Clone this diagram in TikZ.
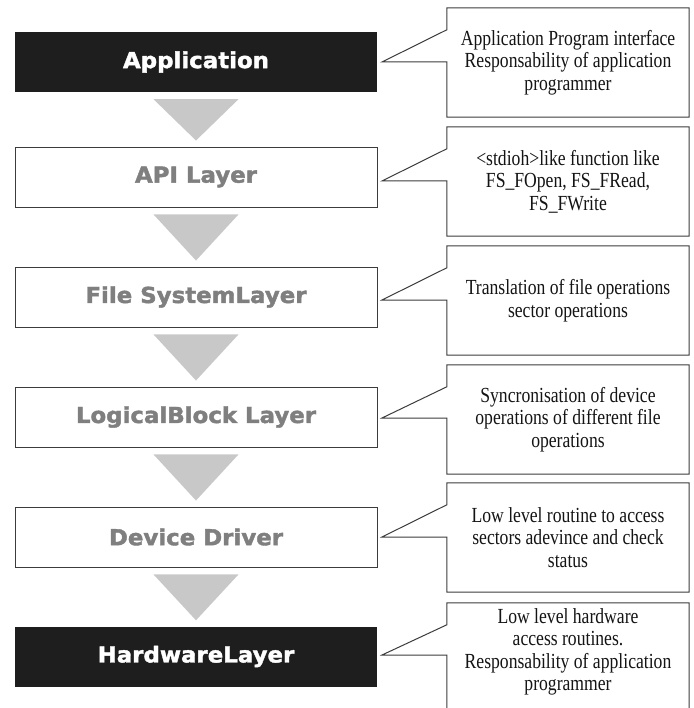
\documentclass[tikz,border=0pt]{standalone}
\usepackage{fontspec}
\newfontfamily\calloutfont[FakeStretch=0.82]{Liberation Serif}
\newfontfamily\layerfont[FakeStretch=1.04,FakeBold=1.8]{DejaVu Sans}
\usetikzlibrary{calc}
\definecolor{boxblack}{HTML}{1E1E1E}
\definecolor{layergray}{HTML}{7F7F7F}
\definecolor{arrowgray}{HTML}{C8C8C8}
\definecolor{edgegray}{HTML}{3C3C3C}
\begin{document}
\begin{tikzpicture}[x=1pt,y=-1pt,
  layer/.style={rectangle, minimum width=362pt, minimum height=60pt, inner sep=0pt,
    font=\layerfont\bfseries\fontsize{22}{24}\selectfont},
  darklayer/.style={layer, fill=boxblack, text=white},
  lightlayer/.style={layer, fill=white, draw=edgegray, line width=0.9pt, text=layergray},
  note/.style={rectangle, minimum width=242pt, minimum height=109pt, inner sep=0pt,
    align=center, font=\calloutfont\fontsize{21.5}{22.5}\selectfont, text=black!92},
  callout/.style={draw=edgegray, line width=1pt, line join=miter},
  flow/.style={fill=arrowgray, draw=none}]
\useasboundingbox (0,0) rectangle (693,708);
\fill[white] (0,0) rectangle (693,708);

% layers
\node[darklayer]  (app) at (196,62)    {Application};
\node[lightlayer] (api) at (196,177)   {API Layer};
\node[lightlayer] (fs)  at (196,297)   {File SystemLayer};
\node[lightlayer] (lb)  at (196,417)   {LogicalBlock Layer};
\node[lightlayer] (dd)  at (196,537)   {Device Driver};
\node[darklayer]  (hw)  at (196,656.5) {HardwareLayer};

% flow triangles
\foreach \a/\b in {app/api, api/fs, fs/lb, lb/dd, dd/hw}{
  \fill[flow] ($(\a.south)+(-42.5,7)$) -- ($(\a.south)+(42.5,7)$) -- ($(\b.north)+(0,-6)$) -- cycle;
}

% callout notes
\node[note] (n1) at (568,62.5)  {Application Program interface\\Responsability of application\\programmer};
\node[note] (n2) at (568,181.5) {<stdioh>like function like\\FS\_FOpen, FS\_FRead,\\FS\_FWrite};
\node[note] (n3) at (568,300.5) {Translation of file operations\\sector operations};
\node[note] (n4) at (568,419.5) {Syncronisation of device\\operations of different file\\operations};
\node[note] (n5) at (568,537.5) {Low level routine to access\\sectors adevince and check\\status};
\node[note] (n6) at (568,652)   {Low level hardware\\access routines.\\Responsability of application\\programmer};
\node[note, draw=none] (n6box) at (568,657.5) {};

% pointer tips
\coordinate (p1) at (382,62);
\coordinate (p2) at (382,181);
\coordinate (p3) at (382,300);
\coordinate (p4) at (382,418);
\coordinate (p5) at (382,537);
\coordinate (p6) at (382,655);

\foreach \n/\p in {n1/p1, n2/p2, n3/p3, n4/p4, n5/p5, n6box/p6}{
  \draw[callout] ($(\n.north west)+(0,22)$) -- (\n.north west) -- (\n.north east)
    -- (\n.south east) -- (\n.south west) -- (\n.west |- \p) -- (\p) -- cycle;
}
\end{tikzpicture}
\end{document}
